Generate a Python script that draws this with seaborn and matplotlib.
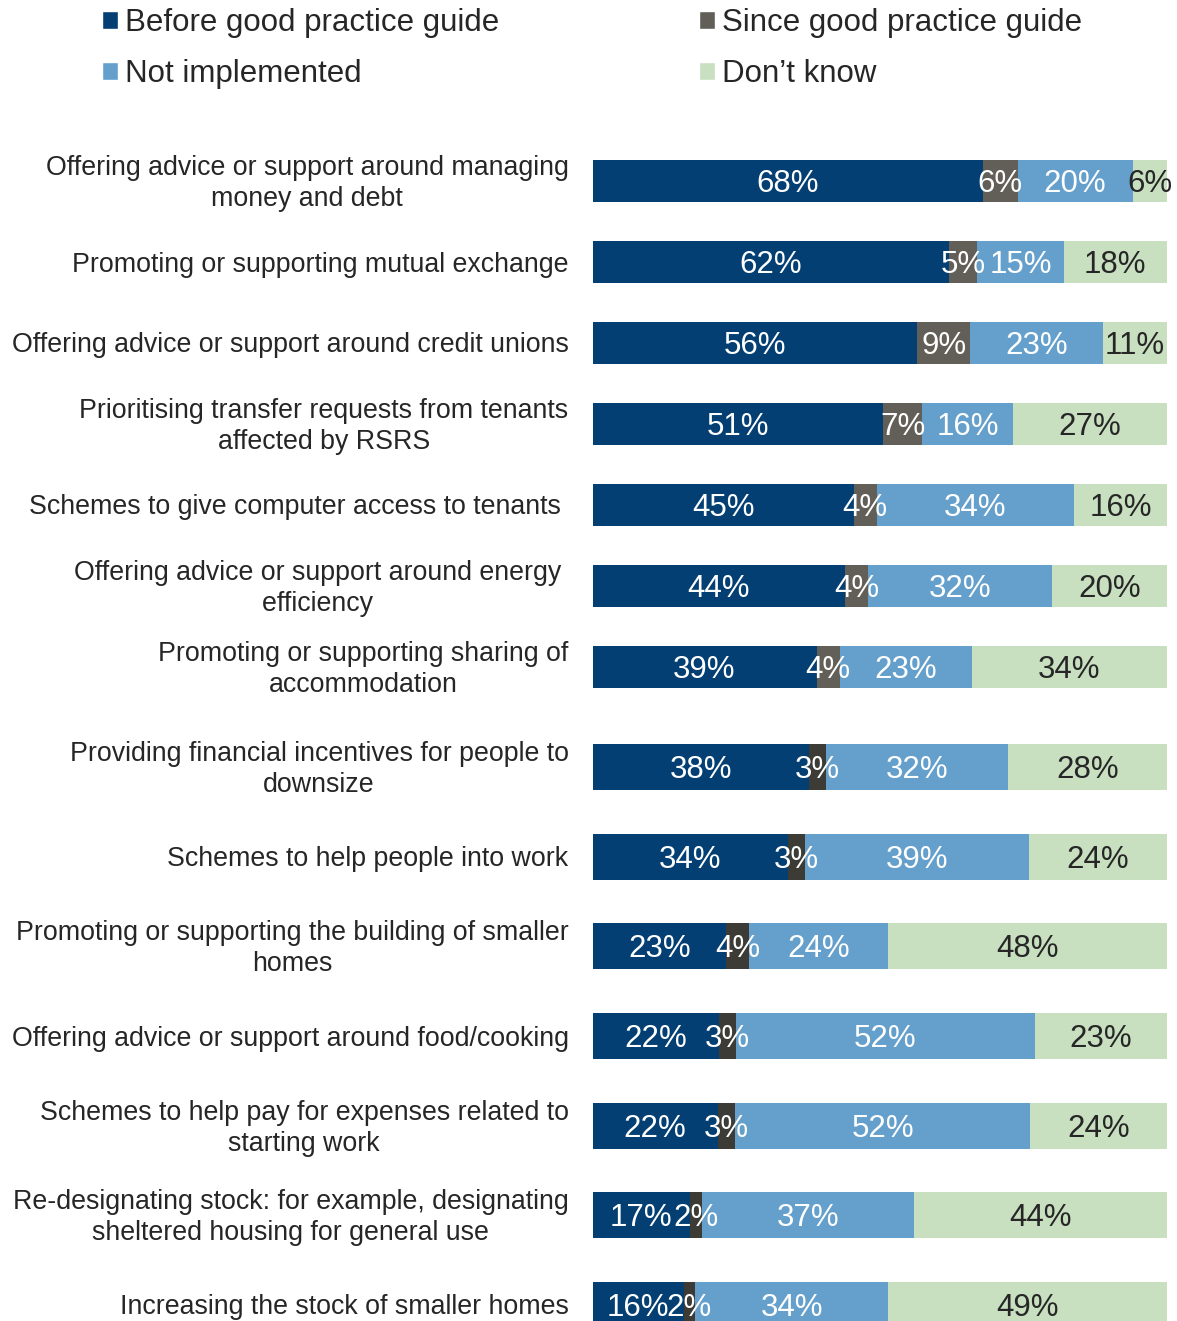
import matplotlib
matplotlib.use("Agg")
import matplotlib.pyplot as plt
from matplotlib.patches import Patch
from matplotlib.transforms import offset_copy, blended_transform_factory, ScaledTranslation
import numpy as np
import seaborn as sns

sns.set_theme(style="white")
plt.rcParams["font.family"] = ["Liberation Sans", "DejaVu Sans"]

categories_top = [
    "Offering advice or support around managing\nmoney and debt",
    "Promoting or supporting mutual exchange",
    "Offering advice or support around credit unions",
    "Prioritising transfer requests from tenants\naffected by RSRS",
    "Schemes to give computer access to tenants ",
    "Offering advice or support around energy \nefficiency ",
    "Promoting or supporting sharing of\naccommodation",
]
before_top = [68, 62, 56, 51, 45, 44, 39]
since_top = [6, 5, 9, 7, 4, 4, 4]
not_impl_top = [20, 15, 23, 16, 34, 32, 23]
dont_know_top = [6, 18, 11, 27, 16, 20, 34]

categories_bottom = [
    "Providing financial incentives for people to\ndownsize",
    "Schemes to help people into work",
    "Promoting or supporting the building of smaller\nhomes",
    "Offering advice or support around food/cooking",
    "Schemes to help pay for expenses related to\nstarting work",
    "Re-designating stock: for example, designating\nsheltered housing for general use",
    "Increasing the stock of smaller homes",
]
before_bottom = [38, 34, 23, 22, 22, 17, 16]
since_bottom = [3, 3, 4, 3, 3, 2, 2]
not_impl_bottom = [32, 39, 24, 52, 52, 37, 34]
dont_know_bottom = [28, 24, 48, 23, 24, 44, 49]

series_names = ["Before good practice guide", "Since good practice guide",
                "Not implemented", "Don\u2019t know"]

C_BEFORE = "#033F73"
C_SINCE_TOP = "#615F57"
C_SINCE_BOTTOM = "#3C3B35"
C_NOT = "#64A0CB"
C_DK = "#C8DFC0"
TEXT = "#262626"

W, H = 1177, 1321
fig = plt.figure(figsize=(W / 100, H / 100), dpi=100)


def add_axes_px(left, right, top, bottom):
    return fig.add_axes([left / W, 1 - bottom / H, (right - left) / W, (bottom - top) / H])


def draw_panel(ax, cats, series, colors, bar_w):
    vals = np.array(series, dtype=float)
    # rounded shares do not always add to 100, so each row is scaled to its total
    share = vals / vals.sum(axis=0) * 100
    cum = np.cumsum(share, axis=0)
    # draw cumulative totals from the outermost layer inwards
    for k in range(len(series) - 1, -1, -1):
        sns.barplot(x=cum[k], y=cats, color=colors[k], saturation=1,
                    width=bar_w, linewidth=0, orient="h", ax=ax)
    starts = np.vstack([np.zeros(len(cats)), cum[:-1]])
    value_tr = offset_copy(ax.transData, fig=fig, y=-3, units="dots")
    for k, row in enumerate(series):
        col = TEXT if k == len(series) - 1 else "white"
        for i, v in enumerate(row):
            ax.text(starts[k][i] + share[k][i] / 2, i, f"{v}%", ha="center",
                    va="center", fontsize=22.5, color=col, transform=value_tr)

    # category names to the left of the bars
    ax.set_yticks(range(len(cats)))
    ax.set_yticklabels([])
    cat_tr = blended_transform_factory(ax.transAxes, ax.transData) + \
        ScaledTranslation(-24 / 100, -2.5 / 100, fig.dpi_scale_trans)
    for i, name in enumerate(cats):
        ax.text(0, i, name, transform=cat_tr, ha="right", va="center",
                multialignment="center", linespacing=1.24, fontsize=19.3,
                color=TEXT)

    ax.set_xlim(0, 100)
    ax.set_xlabel("")
    ax.set_ylabel("")
    ax.set_xticks([])
    for s in ax.spines.values():
        s.set_visible(False)
    ax.tick_params(axis="y", length=0)


# upper block: rows spaced 81 px, bars 42 px tall
ax1 = add_axes_px(592.5, 1167, 181 - 40.5, 667 + 40.5)
draw_panel(ax1, categories_top,
           [before_top, since_top, not_impl_top, dont_know_top],
           [C_BEFORE, C_SINCE_TOP, C_NOT, C_DK], 42 / 81)
ax1.set_ylim(6.5, -0.5)

# lower block: rows spaced ~89.7 px, bars 46 px tall
step = (1305 - 767) / 6
ax2 = add_axes_px(592.5, 1167, 767 - step / 2, 1305 + step / 2)
draw_panel(ax2, categories_bottom,
           [before_bottom, since_bottom, not_impl_bottom, dont_know_bottom],
           [C_BEFORE, C_SINCE_BOTTOM, C_NOT, C_DK], 46 / step)
ax2.set_ylim(6.5, -0.5)

handles = [Patch(facecolor=C_BEFORE), Patch(facecolor=C_NOT),
           Patch(facecolor=C_SINCE_TOP), Patch(facecolor=C_DK)]
labels = [series_names[0], series_names[2], series_names[1], series_names[3]]
fig.legend(handles, labels, ncol=2, loc="upper left",
           bbox_to_anchor=(102 / W, 1 - 8 / H), frameon=False,
           fontsize=22.5, handlelength=0.51, handleheight=0.51,
           handletextpad=0.22, columnspacing=6.39, labelspacing=0.67,
           labelcolor=TEXT, borderaxespad=0, borderpad=0)

fig.savefig("out.png", dpi=100)
